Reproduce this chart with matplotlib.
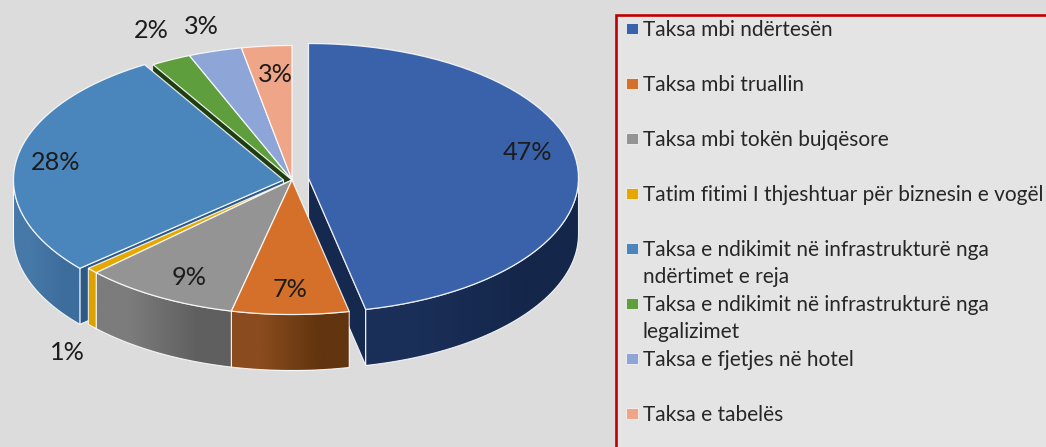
import numpy as np
import matplotlib
matplotlib.use('Agg')
import matplotlib.pyplot as plt
from matplotlib.colors import to_rgb
from matplotlib.patches import Polygon, Rectangle

# data
labels = ['Taksa mbi ndërtesën', 'Taksa mbi truallin', 'Taksa mbi tokën bujqësore',
          'Tatim fitimi I thjeshtuar për biznesin e vogël',
          'Taksa e ndikimit në infrastrukturë nga\nndërtimet e reja',
          'Taksa e ndikimit në infrastrukturë nga\nlegalizimet',
          'Taksa e fjetjes në hotel', 'Taksa e tabelës']
shares = [46.6, 7.0, 9.3, 0.7, 27.8, 2.4, 3.2, 3.0]

# styles
top_colors = ['#3a62ab', '#d4702a', '#949494', '#e6a800', '#4a86bb', '#5f9e3c', '#8ea5d8', '#efa587']
wall_left = ['#1a2f58', '#8a4c1e', '#7c7c7c', '#dca200', '#4678a8', '#3f6a28', '#5f70a0', '#a87560']
wall_right = ['#14264a', '#62340f', '#5f5f5f', '#dca200', '#3d6d9c', '#3f6a28', '#5f70a0', '#a87560']
face_colors = ['#15294e', '#62340f', '#5f5f5f', '#dca200', '#2c5a87', '#1f3d10', '#5f70a0', '#a87560']
offsets = [(308.5, 178), (292, 180), (292, 180), (292, 180), (283.5, 180), (292, 180), (292, 180), (292, 180)]
label_pos = [(527, 152), (290, 289.5), (189, 277.5), (67, 352), (56, 162.5), (151, 31), (201, 27), (275, 74)]
draw_order = [5, 6, 7, 4, 0, 3, 2, 1]

RX, RY, DEPTH = 270, 134.5, 56
FONT = 'Lato'

fig = plt.figure(figsize=(10.46, 4.47), dpi=100, facecolor='#dcdcdc')
ax = fig.add_axes([0, 0, 1, 1])
ax.axis('off')


def rim(cx, cy, a0, a1, n=60):
    # angles in degrees, clockwise from the top
    t = np.radians(np.linspace(a0, a1, n))
    return np.column_stack((cx + RX * np.sin(t), cy - RY * np.cos(t)))


def draw_slice(i, a0, a1):
    cx, cy = offsets[i]
    edge = (1, 1, 1, 0.85)
    # flat side facing the viewer, only for a slice that leaves a gap
    if i == 0:
        p = rim(cx, cy, a1, a1, 1)[0]
        ax.add_patch(Polygon([(cx, cy), p, (p[0], p[1] + DEPTH), (cx, cy + DEPTH)],
                             fc=face_colors[i], ec=edge, lw=0.8))
    if i == 4:
        p = rim(cx, cy, a0, a0, 1)[0]
        ax.add_patch(Polygon([(cx, cy), p, (p[0], p[1] + DEPTH), (cx, cy + DEPTH)],
                             fc=face_colors[i], ec=edge, lw=0.8))
    if i == 5:
        p = rim(cx, cy, a0, a0, 1)[0]
        ax.add_patch(Polygon([(cx, cy), p, (p[0], p[1] + DEPTH), (cx, cy + DEPTH)],
                             fc=face_colors[i], lw=0))
    # outer wall, lower half of the ellipse only
    w0, w1 = max(a0, 90), min(a1, 270)
    if w1 > w0:
        pts = rim(cx, cy, w0, w1)
        outline = np.vstack((pts, (pts + (0, DEPTH))[::-1]))
        # the ellipse runs right to left here, so the gradient is laid out by x
        grad = np.array([[to_rgb(wall_left[i]), to_rgb(wall_right[i])]])
        im = ax.imshow(grad, extent=(outline[:, 0].min(), outline[:, 0].max(),
                                     outline[:, 1].max(), outline[:, 1].min()),
                       aspect='auto', interpolation='bilinear', zorder=1)
        clip = Polygon(outline, fc='none', ec=edge, lw=0.8, zorder=1)
        ax.add_patch(clip)
        im.set_clip_path(clip)
    # top surface
    ax.add_patch(Polygon(np.vstack(([(cx, cy)], rim(cx, cy, a0, a1))),
                         fc=top_colors[i], ec=edge, lw=0.9, zorder=1))


stops = np.concatenate(([0], np.cumsum(shares))) / sum(shares) * 360
for i in draw_order:
    draw_slice(i, stops[i], stops[i + 1])

ax.set_xlim(0, 1046)
ax.set_ylim(447, 0)

for v, (x, y) in zip(shares, label_pos):
    ax.text(x, y, f'{round(v)}%', ha='center', va='center', fontsize=18.2,
            family=FONT, color='#1c1c1c', zorder=3)

# legend box runs off the canvas on the right and at the bottom
ax.add_patch(Rectangle((616, 15), 460, 460, fc='#e4e4e4', ec='#c00000', lw=1.9, zorder=2))
for i, label in enumerate(labels):
    base = 35.7 + 55 * i
    ax.add_patch(Rectangle((626, base - 13), 11.5, 11.5, fc=top_colors[i], ec='#f2f2f2', lw=0.6, zorder=3))
    for j, line in enumerate(label.split('\n')):
        ax.text(643, base + 27.5 * j, line, ha='left', va='baseline', fontsize=15,
                family=FONT, color='#262626', zorder=3)

fig.savefig('out.png', dpi=100, facecolor=fig.get_facecolor())
